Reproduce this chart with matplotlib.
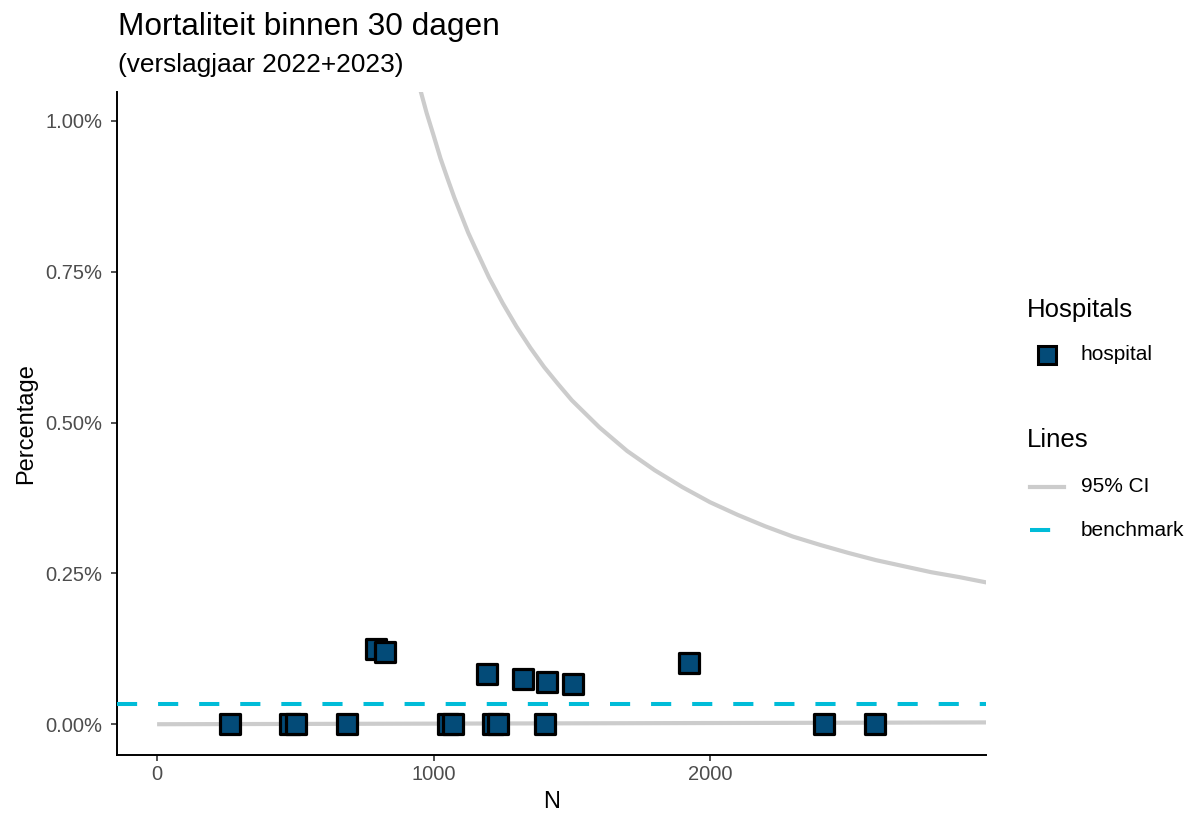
import matplotlib
matplotlib.use('Agg')
import matplotlib.pyplot as plt
from matplotlib.lines import Line2D
from matplotlib.ticker import FuncFormatter

plt.rcParams['font.family'] = ['Liberation Sans', 'DejaVu Sans']

# Hospitals: volume (N) and 30-day mortality (%)
hosp_n = [264, 481, 503, 687, 792, 825, 1052, 1071, 1193, 1215, 1233,
          1324, 1403, 1410, 1505, 1924, 2412, 2597]
hosp_pct = [0.0, 0.0, 0.0, 0.0, 0.124, 0.120, 0.0, 0.0, 0.083, 0.0, 0.0,
            0.075, 0.0, 0.070, 0.066, 0.101, 0.0, 0.0]

# 95% CI limits
ci_upper_n = [950, 975, 1000, 1025, 1050, 1075, 1100, 1125, 1150, 1200, 1250,
              1300, 1350, 1400, 1450, 1500, 1600, 1700, 1800, 1900, 2000,
              2100, 2200, 2300, 2400, 2500, 2600, 2700, 2800, 2900, 3000]
ci_upper_pct = [1.055, 1.013, 0.976, 0.938, 0.905, 0.873, 0.844, 0.815, 0.790, 0.741, 0.698,
                0.659, 0.624, 0.592, 0.564, 0.537, 0.492, 0.453, 0.421, 0.393, 0.368,
                0.347, 0.328, 0.311, 0.297, 0.284, 0.272, 0.262, 0.252, 0.244, 0.235]
ci_lower_n = [0, 1000, 2000, 3000]
ci_lower_pct = [0.0, 0.001, 0.002, 0.003]

benchmark_pct = 0.033

W, H = 1196, 817
fig = plt.figure(figsize=(W / 100, H / 100), dpi=100)
ax = fig.add_axes([117 / W, 1 - 755 / H, (986 - 117) / W, (755 - 92) / H])

ci_col = '#cccccc'
bench_col = '#00bcd8'
point_col = '#034b78'
dash = (0, (5, 5.2))

ax.plot(ci_upper_n, ci_upper_pct, color=ci_col, lw=3.0, zorder=2)
ax.plot(ci_lower_n, ci_lower_pct, color=ci_col, lw=3.0, zorder=2, solid_capstyle='butt')
ax.axhline(benchmark_pct, color=bench_col, lw=2.9, ls=dash, zorder=3)
ax.scatter(hosp_n, hosp_pct, marker='s', s=200, c=point_col, edgecolors='black',
           linewidths=2.3, zorder=4)

ax.set_xlim(-145, 2998)
ax.set_ylim(-0.051, 1.048)
ax.set_xticks([0, 1000, 2000])
ax.set_yticks([0, 0.25, 0.5, 0.75, 1.0])
ax.yaxis.set_major_formatter(FuncFormatter(lambda v, p: f'{v:.2f}%'))

for s in ['top', 'right']:
    ax.spines[s].set_visible(False)
for s in ['left', 'bottom']:
    ax.spines[s].set_linewidth(1.4)
    ax.spines[s].set_color('black')
ax.tick_params(length=4.3, width=1.2, color='#333333', labelsize=14.5,
               labelcolor='#4d4d4d', pad=3)
ax.tick_params(axis='y', pad=6)

ax.set_xlabel('N', fontsize=17, labelpad=5)
ax.set_ylabel('Percentage', fontsize=17, labelpad=6)

fig.text(118 / W, 1 - 35 / H, 'Mortaliteit binnen 30 dagen', fontsize=22.8, va='baseline')
fig.text(118 / W, 1 - 72 / H, '(verslagjaar 2022+2023)', fontsize=18.9, va='baseline')


# Legend, drawn by hand in figure pixels
def fx(px):
    return px / W


def fy(py):
    return 1 - py / H


fig.text(fx(1027), fy(310), 'Hospitals', fontsize=18.5, va='center')
fig.add_artist(Line2D([fx(1047)], [fy(355)], marker='s', ls='none', markersize=13,
                      markerfacecolor=point_col, markeredgecolor='black',
                      markeredgewidth=2.2))
fig.text(fx(1081), fy(355), 'hospital', fontsize=15, va='center')

fig.text(fx(1027), fy(440), 'Lines', fontsize=18.5, va='center')
fig.add_artist(Line2D([fx(1030), fx(1064)], [fy(487), fy(487)], color=ci_col, lw=3.0))
fig.text(fx(1081), fy(487), '95% CI', fontsize=15, va='center')
fig.add_artist(Line2D([fx(1030), fx(1064)], [fy(530), fy(530)], color=bench_col,
                      lw=2.9, ls=dash))
fig.text(fx(1081), fy(530), 'benchmark', fontsize=15, va='center')

fig.savefig('out.png', dpi=100)
